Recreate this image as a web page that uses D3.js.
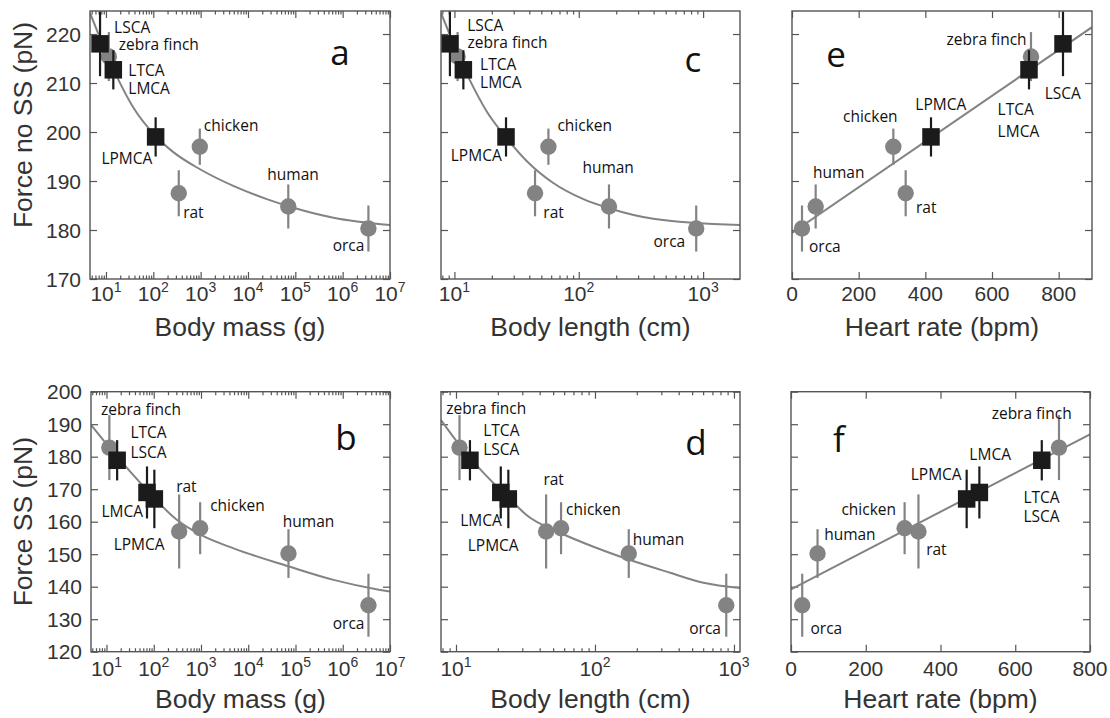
<!DOCTYPE html>
<html><head><meta charset="utf-8">
<script src="https://cdn.jsdelivr.net/npm/d3@7"></script>
<style>
body{margin:0;background:#fff;}
svg{display:block;}
</style></head><body>
<svg id="chart" width="1110" height="718"></svg>
<script>
// ---- species data (shared by both rows) ----
const speciesNames   = ["zebra finch", "rat", "chicken", "human", "orca"];
const speciesMass    = [11.5, 345, 960, 71000, 3.5e6];      // g
const speciesLength  = [10.6, 44.5, 57, 175, 880];          // cm
const speciesHR      = [717, 341, 304, 71, 30];             // bpm
const speciesNoSS    = [215.4, 187.5, 197.0, 184.8, 180.3]; // pN
const speciesNoSSErr = [5.0, 4.7, 3.7, 4.5, 4.7];
const speciesSS      = [182.8, 157.0, 158.0, 150.2, 134.3]; // pN
const speciesSSErr   = [10.0, 11.4, 8.0, 7.5, 9.7];

// ---- artery data, no SS (top row) ----
const arteryNoSSNames  = ["LSCA", "LTCA/LMCA", "LPMCA"];
const arteryNoSSMass   = [7.5, 14.3, 112];
const arteryNoSSLength = [9.2, 11.8, 26];
const arteryNoSSHR     = [813, 711, 417];
const arteryNoSSForce  = [218.0, 212.7, 199.0];
const arteryNoSSErr    = [6.6, 4.0, 4.0];

// ---- artery data, SS (bottom row) ----
const arterySSNames  = ["LTCA/LSCA", "LMCA", "LPMCA"];
const arterySSMass   = [16.8, 72, 103];
const arterySSLength = [12.6, 21, 23.8];
const arterySSHR     = [671, 504, 470];
const arterySSForce  = [178.9, 169.0, 167.0];
const arterySSErr    = [6.2, 8.0, 9.0];

// ---- fitted curves ----
const fitMassNoSSX = [4.6, 16.8, 37.8, 109, 265, 970, 4900, 25000, 69000, 640000, 1e7];
const fitMassNoSSY = [224.3, 211.4, 205.0, 199.3, 195.9, 192.4, 189.0, 186.3, 184.9, 182.5, 181.0];
const fitLenNoSSX  = [7.8, 13.3, 18.2, 26, 38.1, 62.4, 109, 173, 398, 1980];
const fitLenNoSSY  = [224.3, 210.6, 204.2, 198.9, 194.1, 189.6, 186.3, 184.5, 182.3, 181.0];
const fitHRNoSSX   = [0, 900];
const fitHRNoSSY   = [179.4, 221.4];
const fitMassSSX   = [4.7, 16.8, 61.5, 313, 970, 4900, 74000, 640000, 6.2e6, 1e7];
const fitMassSSY   = [189.8, 180.0, 170.8, 160.5, 156.0, 151.8, 146.2, 142.1, 139.0, 138.5];
const fitLenSSX    = [7.8, 10.7, 14.9, 24.5, 32.3, 56, 103, 179, 347, 603, 1105];
const fitLenSSY    = [191.3, 183.4, 176.2, 166.9, 162.0, 156.6, 151.9, 148.2, 144.3, 141.2, 139.6];
const fitHRSSX     = [0, 800];
const fitHRSSY     = [139.2, 186.9];

// ---- axis ticks ----
const yTicksNoSS = [170, 180, 190, 200, 210, 220];
const yTicksSS   = [120, 130, 140, 150, 160, 170, 180, 190, 200];
const hrTicks    = [0, 200, 400, 600, 800];

// ---- layout ----
const GREY = "#838383", DARK = "#1b1b1b", FRAME = "#555";
const tickFont = "'Liberation Sans', Arial, sans-serif";
const labelFont = "'Open Sans', 'Noto Sans', sans-serif";

function zipPoints(names, xs, ys, errs, kind) {
  return names.map((n, i) => ({key: n, x: xs[i], y: ys[i], err: errs[i], kind}));
}

const panels = [
  { id: "a", box: [90, 11, 300, 268], xType: "log", xDomain: [4.6, 1e7], yDomain: [170, 224.7],
    species: speciesMass, arteries: [arteryNoSSNames, arteryNoSSMass, arteryNoSSForce, arteryNoSSErr],
    sy: speciesNoSS, se: speciesNoSSErr, fit: [fitMassNoSSX, fitMassNoSSY],
    yTicks: yTicksNoSS, yLabels: true, yTitle: "Force no SS (pN)", yTitleY: 125,
    xTitle: "Body mass (g)", tickBase: 301, titleBase: 336, letter: [250, 54],
    labels: [["LSCA","LSCA",14,-11,"start"],["zebra finch","zebra finch",10,-6.7,"start"],
             ["LTCA/LMCA","LTCA",15,6,"start"],["LTCA/LMCA","LMCA",15,24,"start"],
             ["LPMCA","LPMCA",-3.3,26.6,"end"],["chicken","chicken",4,-15.6,"start"],
             ["rat","rat",4.4,25,"start"],["human","human",-21,-26.7,"start"],
             ["orca","orca",-4,22.4,"end"]] },
  { id: "c", box: [441, 11, 299, 268], xType: "log", xDomain: [7.8, 1980], yDomain: [170, 224.7],
    species: speciesLength, arteries: [arteryNoSSNames, arteryNoSSLength, arteryNoSSForce, arteryNoSSErr],
    sy: speciesNoSS, se: speciesNoSSErr, fit: [fitLenNoSSX, fitLenNoSSY],
    yTicks: yTicksNoSS, yLabels: false,
    xTitle: "Body length (cm)", tickBase: 301, titleBase: 336, letter: [252, 61],
    labels: [["LSCA","LSCA",17.3,-13.3,"start"],["zebra finch","zebra finch",10,-9,"start"],
             ["LTCA/LMCA","LTCA",16.7,0,"start"],["LTCA/LMCA","LMCA",16.7,18.3,"start"],
             ["LPMCA","LPMCA",-4.3,24.4,"end"],["chicken","chicken",9,-15.6,"start"],
             ["rat","rat",8.3,24.6,"start"],["human","human",-26.6,-33.4,"start"],
             ["orca","orca",-11,18.4,"end"]] },
  { id: "e", box: [792, 11, 300, 268], xType: "lin", xDomain: [0, 900], yDomain: [170, 224.7],
    species: speciesHR, arteries: [arteryNoSSNames, arteryNoSSHR, arteryNoSSForce, arteryNoSSErr],
    sy: speciesNoSS, se: speciesNoSSErr, fit: [fitHRNoSSX, fitHRNoSSY],
    yTicks: yTicksNoSS, yLabels: false,
    xTitle: "Heart rate (bpm)", tickBase: 301, titleBase: 336, letter: [44, 56],
    labels: [["zebra finch","zebra finch",-4.4,-11.7,"end"],["LSCA","LSCA",-18.3,55,"start"],
             ["LTCA/LMCA","LTCA",-31.4,45,"start"],["LTCA/LMCA","LMCA",-31.4,67.3,"start"],
             ["LPMCA","LPMCA",-15.7,-27.3,"start"],["chicken","chicken",4.3,-25,"end"],
             ["human","human",-2.7,-28.4,"start"],["rat","rat",10.3,20,"start"],
             ["orca","orca",7,23.4,"start"]] },
  { id: "b", box: [91, 391.7, 299, 260], xType: "log", xDomain: [4.7, 1e7], yDomain: [120, 200],
    species: speciesMass, arteries: [arterySSNames, arterySSMass, arterySSForce, arterySSErr],
    sy: speciesSS, se: speciesSSErr, fit: [fitMassSSX, fitMassSSY],
    yTicks: yTicksSS, yLabels: true, yTitle: "Force SS (pN)", yTitleY: 521.7,
    xTitle: "Body mass (g)", tickBase: 676, titleBase: 708, letter: [255, 58],
    labels: [["zebra finch","zebra finch",-8.3,-32.3,"start"],
             ["LTCA/LSCA","LTCA",13.3,-22.4,"start"],["LTCA/LSCA","LSCA",13.3,-2.4,"start"],
             ["LMCA","LMCA",-4,25,"end"],["LPMCA","LPMCA",-40.7,51.4,"start"],
             ["rat","rat",-3,-39.3,"start"],["chicken","chicken",10,-17.6,"start"],
             ["human","human",-5.7,-26.7,"start"],["orca","orca",-4,23.6,"end"]] },
  { id: "d", box: [441, 391.7, 299, 260], xType: "log", xDomain: [7.8, 1105], yDomain: [120, 200],
    species: speciesLength, arteries: [arterySSNames, arterySSLength, arterySSForce, arterySSErr],
    sy: speciesSS, se: speciesSSErr, fit: [fitLenSSX, fitLenSSY],
    yTicks: yTicksSS, yLabels: false,
    xTitle: "Body length (cm)", tickBase: 676, titleBase: 708, letter: [255, 63],
    labels: [["zebra finch","zebra finch",-13.3,-34,"start"],
             ["LTCA/LSCA","LTCA",13.3,-24,"start"],["LTCA/LSCA","LSCA",13.3,-5,"start"],
             ["LMCA","LMCA",1,34,"end"],["LPMCA","LPMCA",-40.6,51.7,"start"],
             ["rat","rat",-2.7,-46,"start"],["chicken","chicken",5,-13.3,"start"],
             ["human","human",4,-9,"start"],["orca","orca",-5.3,28.3,"end"]] },
  { id: "f", box: [791, 391.7, 299, 260], xType: "lin", xDomain: [0, 800], yDomain: [120, 200],
    species: speciesHR, arteries: [arterySSNames, arterySSHR, arterySSForce, arterySSErr],
    sy: speciesSS, se: speciesSSErr, fit: [fitHRSSX, fitHRSSY],
    yTicks: yTicksSS, yLabels: false,
    xTitle: "Heart rate (bpm)", tickBase: 676, titleBase: 708, letter: [48, 60],
    labels: [["zebra finch","zebra finch",12.7,-28.4,"end"],["LMCA","LMCA",-10,-32.7,"start"],
             ["LPMCA","LPMCA",-5,-19.3,"end"],
             ["LTCA/LSCA","LTCA",-18.4,42.7,"start"],["LTCA/LSCA","LSCA",-18.4,61.7,"start"],
             ["chicken","chicken",-8.6,-13.3,"end"],["human","human",6.6,-14,"start"],
             ["rat","rat",7.7,23.3,"start"],["orca","orca",8.3,29,"start"]] }
];

const svg = d3.select("#chart");

function styleAxis(g) {
  g.select(".domain").remove();
  g.selectAll(".tick line").attr("stroke", FRAME).attr("stroke-width", 1.2);
}

panels.forEach(p => {
  const [bx, by, bw, bh] = p.box;
  const x = (p.xType === "log" ? d3.scaleLog() : d3.scaleLinear())
              .domain(p.xDomain).range([bx, bx + bw]);
  const y = d3.scaleLinear().domain(p.yDomain).range([by + bh, by]);
  const g = svg.append("g").attr("class", "panel-" + p.id);

  // ticks on all four sides, pointing inward
  let major, minor = [];
  if (p.xType === "log") {
    const lo = Math.floor(Math.log10(p.xDomain[0])), hi = Math.ceil(Math.log10(p.xDomain[1]));
    major = d3.range(lo, hi + 1).map(k => Math.pow(10, k))
              .filter(v => v >= p.xDomain[0] && v <= p.xDomain[1] * 1.0001);
    for (let k = lo; k <= hi; k++) for (let m = 2; m <= 9; m++) {
      const v = m * Math.pow(10, k);
      if (v > p.xDomain[0] && v < p.xDomain[1]) minor.push(v);
    }
  } else {
    major = hrTicks.filter(v => v <= p.xDomain[1]);
  }
  const sides = [
    [d3.axisBottom, `translate(0,${by + bh})`], [d3.axisTop, `translate(0,${by})`]
  ];
  sides.forEach(([ax, tr]) => {
    g.append("g").attr("transform", tr)
      .call(ax(x).tickValues(major).tickSize(-7).tickFormat("")).call(styleAxis);
    if (minor.length)
      g.append("g").attr("transform", tr)
        .call(ax(x).tickValues(minor).tickSize(-3.5).tickFormat("")).call(styleAxis);
  });
  g.append("g").attr("transform", `translate(${bx},0)`)
    .call(d3.axisLeft(y).tickValues(p.yTicks).tickSize(-7).tickFormat("")).call(styleAxis);
  g.append("g").attr("transform", `translate(${bx + bw},0)`)
    .call(d3.axisRight(y).tickValues(p.yTicks).tickSize(-7).tickFormat("")).call(styleAxis);

  // x tick labels
  const xl = g.append("g").attr("font-family", tickFont).attr("font-size", 21).attr("fill", "#333");
  major.forEach(v => {
    const t = xl.append("text").attr("x", x(v)).attr("y", p.tickBase).attr("text-anchor", "middle");
    if (p.xType === "log") {
      t.append("tspan").text("10");
      t.append("tspan").attr("dy", -9).attr("font-size", 14).text(Math.round(Math.log10(v)));
    } else {
      t.text(v);
    }
  });
  // y tick labels (left panels only)
  if (p.yLabels) {
    p.yTicks.forEach(v => {
      xl.append("text").attr("x", bx - 9).attr("y", y(v)).attr("dy", "0.36em")
        .attr("text-anchor", "end").text(v);
    });
    svg.append("text")
      .attr("transform", `translate(32,${p.yTitleY}) rotate(-90)`)
      .attr("text-anchor", "middle").attr("font-family", tickFont)
      .attr("font-size", 26.5).attr("fill", "#333").text(p.yTitle);
  }
  // x title
  svg.append("text").attr("x", bx + bw / 2).attr("y", p.titleBase)
    .attr("text-anchor", "middle").attr("font-family", tickFont)
    .attr("font-size", 26.5).attr("fill", "#333").text(p.xTitle);

  // clip for the fit line
  const clipId = "clip-" + p.id;
  svg.append("clipPath").attr("id", clipId)
    .append("rect").attr("x", bx).attr("y", by).attr("width", bw).attr("height", bh);

  // fit line
  const fitData = p.fit[0].map((v, i) => [v, p.fit[1][i]]);
  g.append("path").datum(fitData)
    .attr("clip-path", `url(#${clipId})`)
    .attr("d", d3.line().x(d => x(d[0])).y(d => y(d[1])).curve(d3.curveMonotoneX))
    .attr("fill", "none").attr("stroke", GREY).attr("stroke-width", 2);

  // points: species circles first, then artery squares on top
  const spec = zipPoints(speciesNames, p.species, p.sy, p.se, "circle");
  const art = zipPoints(p.arteries[0], p.arteries[1], p.arteries[2], p.arteries[3], "square");
  const byKey = {};
  spec.concat(art).forEach(d => byKey[d.key] = d);

  const sg = g.append("g");
  sg.selectAll("line.sp").data(spec).join("line").attr("class", "sp")
    .attr("x1", d => x(d.x)).attr("x2", d => x(d.x))
    .attr("y1", d => y(d.y - d.err)).attr("y2", d => y(d.y + d.err))
    .attr("stroke", GREY).attr("stroke-width", 2.2);
  sg.selectAll("circle").data(spec).join("circle")
    .attr("cx", d => x(d.x)).attr("cy", d => y(d.y)).attr("r", 8.2)
    .attr("fill", GREY);
  const ag = g.append("g");
  ag.selectAll("line.ar").data(art).join("line").attr("class", "ar")
    .attr("x1", d => x(d.x)).attr("x2", d => x(d.x))
    .attr("y1", d => y(d.y - d.err)).attr("y2", d => y(d.y + d.err))
    .attr("stroke", DARK).attr("stroke-width", 2.2);
  const S = 17.5;
  ag.selectAll("rect").data(art).join("rect")
    .attr("x", d => x(d.x) - S / 2).attr("y", d => y(d.y) - S / 2)
    .attr("width", S).attr("height", S).attr("fill", DARK);

  // point labels
  const lg = g.append("g").attr("font-family", labelFont).attr("font-size", 15.5).attr("fill", "#111");
  p.labels.forEach(([key, text, dx, dy, anchor]) => {
    const d = byKey[key];
    lg.append("text").attr("x", x(d.x) + dx).attr("y", y(d.y) + dy)
      .attr("text-anchor", anchor).text(text);
  });

  // frame
  g.append("rect").attr("x", bx).attr("y", by).attr("width", bw).attr("height", bh)
    .attr("fill", "none").attr("stroke", FRAME).attr("stroke-width", 1.4);

  // panel letter
  g.append("text").attr("x", bx + p.letter[0]).attr("y", by + p.letter[1])
    .attr("text-anchor", "middle").attr("font-family", labelFont)
    .attr("font-size", 35).attr("fill", "#111").text(p.id);
});
</script></body></html>
